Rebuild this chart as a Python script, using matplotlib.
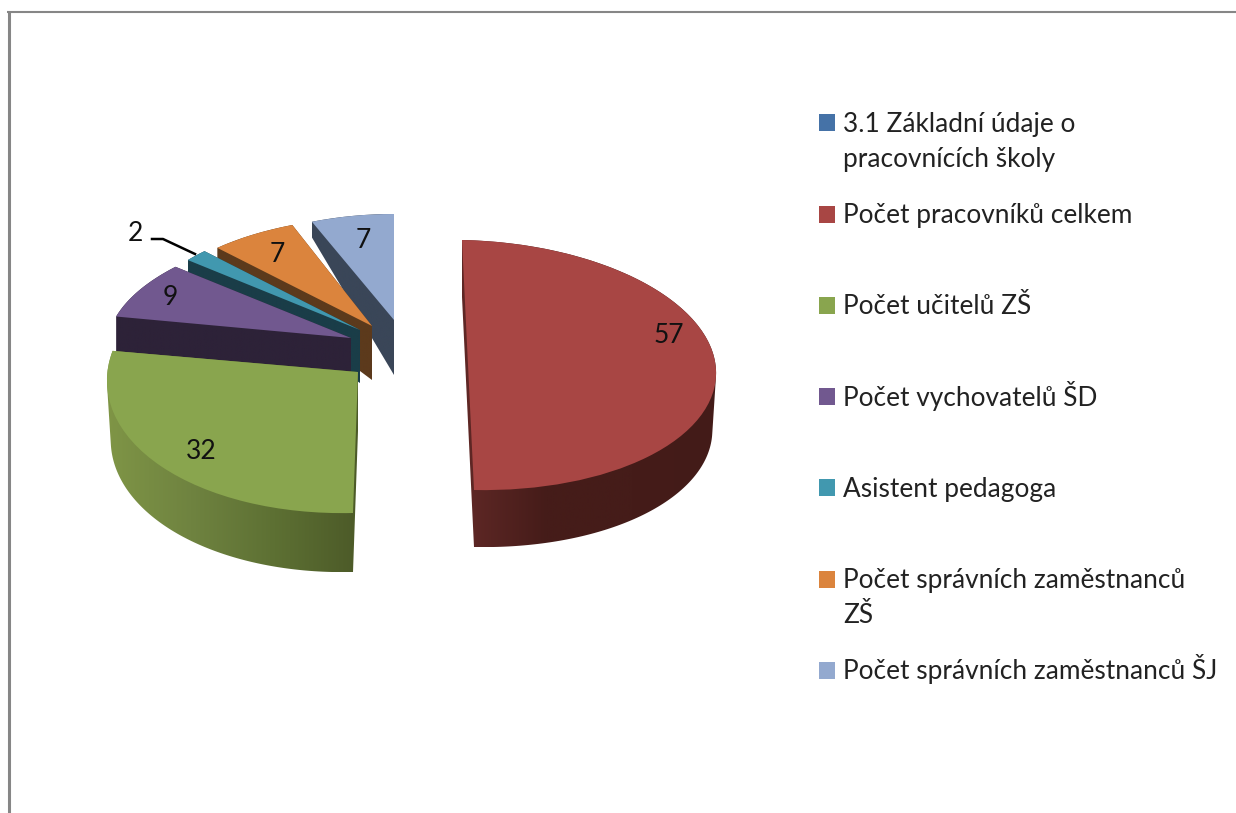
import numpy as np
import matplotlib
matplotlib.use("Agg")
import matplotlib.pyplot as plt
from matplotlib.colors import LinearSegmentedColormap
from matplotlib.patches import Polygon, Rectangle
from matplotlib.transforms import Affine2D

plt.rcParams['font.family'] = ['Lato', 'DejaVu Sans']

categories = ["3.1 Základní údaje o\npracovnících školy", "Počet pracovníků celkem",
              "Počet učitelů ZŠ", "Počet vychovatelů ŠD", "Asistent pedagoga",
              "Počet správních zaměstnanců\nZŠ", "Počet správních zaměstnanců ŠJ"]
values = [0, 57, 32, 9, 2, 7, 7]
top_colors = ["#4572A7", "#A84644", "#89A54E", "#71588F", "#4198AF", "#DB843D", "#93A9CF"]


def hull(pts):
    pts = sorted(map(tuple, pts))
    def half(seq):
        out = []
        for p in seq:
            while len(out) > 1 and ((out[-1][0]-out[-2][0])*(p[1]-out[-2][1]) -
                                    (out[-1][1]-out[-2][1])*(p[0]-out[-2][0])) <= 0:
                out.pop()
            out.append(p)
        return out[:-1]
    return np.array(half(pts) + half(pts[::-1]))


fig = plt.figure(figsize=(12.36, 8.13), dpi=100)
ax = fig.add_axes([0, 0, 1, 1])
wedges, _ = ax.pie(values, colors=top_colors, startangle=90, counterclock=False, radius=1,
                   wedgeprops={"linewidth": 0})
ax.set_aspect("auto")

# each slice sits in its own 3D-ish frame: apex, x vector, y vector, depth, bottom stretch x/y
frames = {
    1: ((468, 365), (248, 5), (-6, -125), 57, 0.985, 1.0, ["#602826", "#451c19", "#451c19", "#431b18"]),
    2: ((358, 372), (251, -6), (5, -141), 59, 0.985, 1.0, ["#7f9546", "#6f8340", "#5d7033", "#4c5a28"]),
    3: ((351, 338), (243, 0), (19, -112), 50, 1.0, 1.5, ["#2d2238", "#2d2238"]),
    4: ((360, 330), (223, 0), (0, -110), 53, 1.0, 1.58, ["#1a3d48", "#1a3d48"]),
    5: ((372, 326), (229, 0), (7, -109), 54, 1.0, 1.48, ["#5c3a1c", "#5c3a1c"]),
    6: ((394, 320), (218, 0), (0, -106), 55, 1.0, 1.4, ["#3a4658", "#3a4658"]),
}

for i, (apex, xv, yv, depth, sx, sy, side) in frames.items():
    w = wedges[i]
    z = 2 + (6 - i) * 2
    t = np.radians(np.linspace(w.theta1, w.theta2, 200))
    unit = np.vstack([[0, 0], np.column_stack([np.cos(t), np.sin(t)])])
    top = Affine2D.from_values(xv[0], xv[1], yv[0], yv[1], apex[0], apex[1])
    bottom = Affine2D.from_values(xv[0]*sx, xv[1], yv[0], yv[1]*sy, apex[0], apex[1]+depth)
    body = hull(np.vstack([top.transform(unit), bottom.transform(unit)]))

    clip = Polygon(body, closed=True, transform=ax.transData, facecolor="none", edgecolor="none")
    ax.add_patch(clip)
    cmap = LinearSegmentedColormap.from_list("side%d" % i, side)
    im = ax.imshow(np.linspace(0, 1, 256)[None, :], cmap=cmap, aspect="auto", zorder=z,
                   extent=(body[:, 0].min(), body[:, 0].max(), body[:, 1].max(), body[:, 1].min()))
    im.set_clip_path(clip)

    w.set_transform(top + ax.transData)
    w.set_zorder(z + 1)

ax.set_xlim(0, 1236)
ax.set_ylim(813, 0)
ax.set_frame_on(False)
ax.set_xticks([])
ax.set_yticks([])

# value labels
label_pos = {1: (669, 335), 2: (201, 451), 3: (170, 297), 4: (135, 233), 5: (277, 254), 6: (363, 240)}
for i, (lx, ly) in label_pos.items():
    ax.text(lx, ly, str(values[i]), ha="center", va="center", fontsize=19, color="#111111", zorder=40)
ax.plot([152, 163, 195], [239, 239, 254], color="black", lw=1.8, zorder=40)

# legend
for i, name in enumerate(categories):
    yc = 123 + i * 91.2
    ax.add_patch(Rectangle((819, yc - 8.5), 16, 17, facecolor=top_colors[i], edgecolor="none", zorder=40))
    for k, line in enumerate(name.split("\n")):
        ax.text(843, yc + 9 + k * 35, line, ha="left", va="baseline", fontsize=18.9, color="#222222", zorder=40)

# chart frame
ax.plot([8.5, 8.5], [813, 12], color="#868686", lw=2.2, zorder=50, solid_capstyle="butt")
ax.plot([7, 1236], [12, 12], color="#868686", lw=1.5, zorder=50, solid_capstyle="butt")

fig.savefig("out.png", dpi=100, facecolor="white")
